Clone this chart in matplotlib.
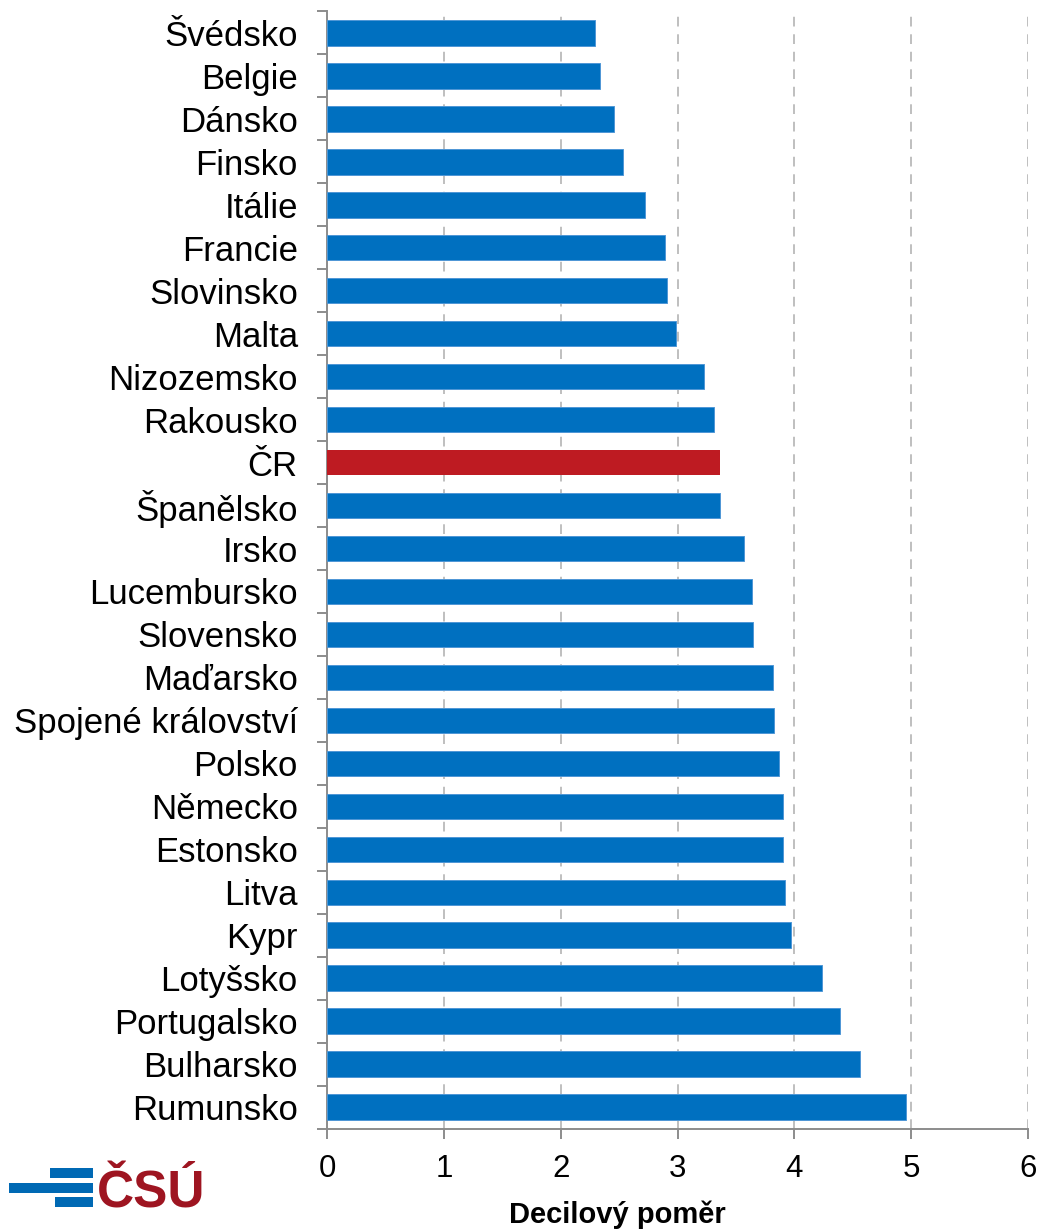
import matplotlib
matplotlib.use("Agg")
import matplotlib.pyplot as plt
from matplotlib.patches import Rectangle

plt.rcParams['font.family'] = ['Liberation Sans', 'DejaVu Sans']

countries = ["Švédsko", "Belgie", "Dánsko", "Finsko", "Itálie", "Francie", "Slovinsko",
             "Malta", "Nizozemsko", "Rakousko", "ČR", "Španělsko", "Irsko", "Lucembursko",
             "Slovensko", "Maďarsko", "Spojené království", "Polsko", "Německo", "Estonsko",
             "Litva", "Kypr", "Lotyšsko", "Portugalsko", "Bulharsko", "Rumunsko"]
values = [2.29, 2.34, 2.46, 2.53, 2.72, 2.89, 2.91, 2.99, 3.23, 3.31, 3.36, 3.36, 3.57,
          3.64, 3.65, 3.82, 3.83, 3.87, 3.90, 3.90, 3.92, 3.97, 4.24, 4.39, 4.56, 4.96]
highlight = "ČR"
xticks = [0, 1, 2, 3, 4, 5, 6]
xlabel = "Decilový poměr"

BLUE = "#0070C0"
RED = "#BE1B22"
GRAY = "#8C8C8C"

W, H = 1038, 1230
fig = plt.figure(figsize=(W / 100, H / 100), dpi=100)
ax = fig.add_axes([327 / W, 1 - 1128.5 / H, (1028 - 327) / W, (1128.5 - 11.5) / H])

n = len(countries)
ypos = list(range(n))
colors = [RED if c == highlight else BLUE for c in countries]
edges = ["none" if c == highlight else "#4F97D6" for c in countries]
ax.barh(ypos, values, height=0.59, color=colors, edgecolor=edges, linewidth=0.7, zorder=3)

ax.set_xlim(0, 6)
ax.set_ylim(n - 0.5, -0.5)

ax.set_xticks(xticks)
ax.set_xticklabels([str(t) for t in xticks], fontsize=22.5)
ax.tick_params(axis='x', direction='out', length=7.2, width=1.4, color=GRAY, pad=11)

ax.set_yticks(ypos)
ax.set_yticklabels(countries, fontsize=25)
ax.tick_params(axis='y', which='major', length=0, pad=21)
ax.set_yticks([i - 0.5 for i in range(n + 1)], minor=True)
ax.tick_params(axis='y', which='minor', direction='out', length=7.2, width=1.4, color=GRAY)

for s in ['top', 'right']:
    ax.spines[s].set_visible(False)
for s in ['left', 'bottom']:
    ax.spines[s].set_color(GRAY)
    ax.spines[s].set_linewidth(1.4)

ax.xaxis.grid(True, linestyle=(0, (5, 4)), color="#BFBFBF", linewidth=1.4, zorder=0)
ax.set_axisbelow(True)

fig.text(617.5 / W, 1 - 1223 / H, xlabel, fontsize=21, fontweight='bold',
         ha='center', va='baseline')

# logo
LB = "#0069B4"
LR = "#9E1521"
for (x0, x1, y0, y1) in [(50, 92.7, 1168, 1177.7), (9, 92.7, 1182.7, 1192.7), (55, 92.7, 1197, 1206.7)]:
    fig.patches.append(Rectangle((x0 / W, 1 - y1 / H), (x1 - x0) / W, (y1 - y0) / H,
                                 transform=fig.transFigure, color=LB, lw=0))
fig.text(97 / W, 1 - 1207 / H, "ČSÚ", fontsize=37, fontweight='heavy', color=LR,
         ha='left', va='baseline')

fig.savefig("out.png", dpi=100)
